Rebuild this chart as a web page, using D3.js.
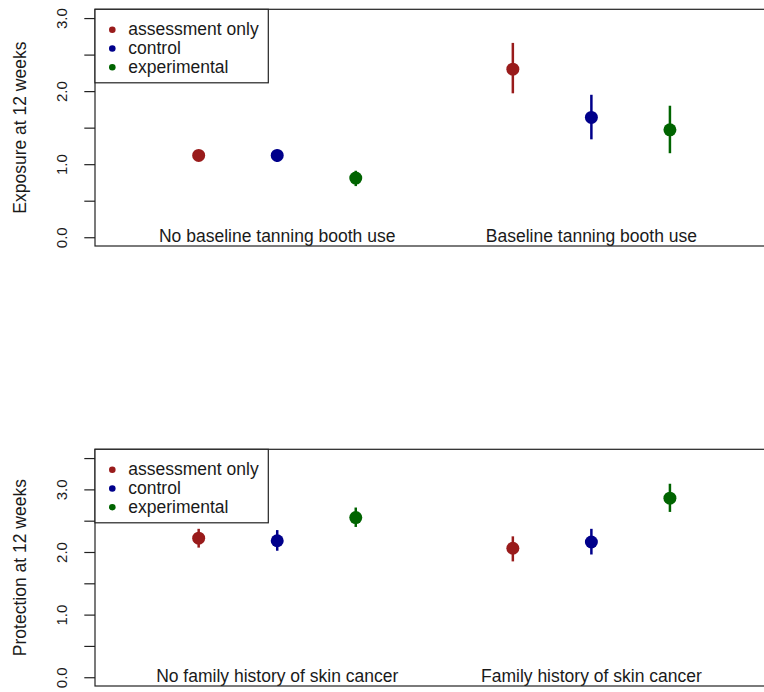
<!DOCTYPE html>
<html>
<head>
<meta charset="utf-8">
<script src="https://cdn.jsdelivr.net/npm/d3@7"></script>
<style>
  body { margin: 0; background: #fff; }
  text { font-family: "Liberation Sans", Arial, sans-serif; fill: #1a1a1a; }
</style>
</head>
<body>
<script>
// arms of the trial, in legend order
const arms = ['assessment only', 'control', 'experimental'];
const armColours = ['#991b1b', '#00008b', '#006400'];

// top panel: exposure
const exposureGroups = ['No baseline tanning booth use', 'Baseline tanning booth use'];
const exposureMean = [1.12, 1.12, 0.81, 2.30, 1.64, 1.47];
const exposureLow = [1.06, 1.03, 0.70, 1.97, 1.34, 1.15];
const exposureHigh = [1.18, 1.20, 0.91, 2.66, 1.95, 1.80];
const exposureTicks = [0, 0.5, 1, 1.5, 2, 2.5, 3];

// bottom panel: protection
const protectionGroups = ['No family history of skin cancer', 'Family history of skin cancer'];
const protectionMean = [2.22, 2.18, 2.55, 2.06, 2.16, 2.86];
const protectionLow = [2.07, 2.02, 2.40, 1.85, 1.96, 2.64];
const protectionHigh = [2.37, 2.35, 2.71, 2.25, 2.37, 3.09];
const protectionTicks = [0, 0.5, 1, 1.5, 2, 2.5, 3, 3.5];

const width = 764;
const height = 692;

const svg = d3.select('body').append('svg')
  .attr('width', width)
  .attr('height', height);

// x positions 1,2,3 and 5,6,7 on a 0..8 range (R pads by 4%)
const x = d3.scaleLinear().domain([-0.32, 8.32]).range([95, 773.6]);

function panel (opts) {
  const { top, bottom, ydomain, ticks, title, groups, mean, low, high } = opts;
  const y = d3.scaleLinear().domain(ydomain).range([bottom, top]);
  const g = svg.append('g');

  const rows = mean.map((m, i) => {
    const grp = Math.floor(i / arms.length);
    const arm = i % arms.length;
    return { pos: grp * 4 + arm + 1, arm, mean: m, low: low[i], high: high[i] };
  });

  // axis
  const axis = d3.axisLeft(y)
    .tickValues(ticks)
    .tickSizeInner(10.7)
    .tickSizeOuter(0)
    .tickFormat((d) => (d % 1 === 0 ? d3.format('.1f')(d) : ''));
  const ag = g.append('g')
    .attr('transform', `translate(${x.range()[0]},0)`)
    .call(axis);
  ag.select('.domain').remove();
  ag.selectAll('line').attr('stroke', '#222').attr('stroke-width', 1.2);
  ag.selectAll('text')
    .attr('x', null).attr('dy', null)
    .attr('transform', 'translate(-28,0) rotate(-90)')
    .attr('text-anchor', 'middle')
    .style('font-size', '15px')
    .style('font-family', '"Liberation Sans", Arial, sans-serif')
    .attr('fill', '#1a1a1a');

  // y title
  g.append('text')
    .attr('transform', `translate(26,${(top + bottom) / 2}) rotate(-90)`)
    .attr('text-anchor', 'middle')
    .style('font-size', '17.5px')
    .text(title);

  // error bars
  g.selectAll('line.err').data(rows).join('line')
    .attr('class', 'err')
    .attr('x1', (d) => x(d.pos)).attr('x2', (d) => x(d.pos))
    .attr('y1', (d) => y(d.low)).attr('y2', (d) => y(d.high))
    .attr('stroke', (d) => armColours[d.arm])
    .attr('stroke-width', 2.5);

  g.selectAll('circle.pt').data(rows).join('circle')
    .attr('class', 'pt')
    .attr('cx', (d) => x(d.pos)).attr('cy', (d) => y(d.mean))
    .attr('r', 6.5)
    .attr('fill', (d) => armColours[d.arm]);

  // group labels sit on y = 0
  g.selectAll('text.grp').data(groups).join('text')
    .attr('class', 'grp')
    .attr('x', (d, i) => x(i * 4 + 2))
    .attr('y', y(0) + 5)
    .attr('text-anchor', 'middle')
    .style('font-size', '17.5px')
    .text((d) => d);

  // frame
  g.append('rect')
    .attr('x', x.range()[0]).attr('y', top)
    .attr('width', x.range()[1] - x.range()[0])
    .attr('height', bottom - top)
    .attr('fill', 'none')
    .attr('stroke', '#222')
    .attr('stroke-width', 1.2);

  // legend
  const lg = g.append('g').attr('transform', `translate(${x.range()[0]},${top})`);
  lg.append('rect')
    .attr('width', 173.3).attr('height', 73.5)
    .attr('fill', '#fff')
    .attr('stroke', '#222')
    .attr('stroke-width', 1.2);
  const item = lg.selectAll('g.item').data(arms).join('g')
    .attr('class', 'item')
    .attr('transform', (d, i) => `translate(0,${20.5 + i * 18.7})`);
  item.append('circle')
    .attr('cx', 17.3).attr('cy', 0).attr('r', 3.3)
    .attr('fill', (d, i) => armColours[i]);
  item.append('text')
    .attr('x', 33.3).attr('y', 5.5)
    .style('font-size', '17.5px')
    .text((d) => d);
}

panel({
  top: 9.3, bottom: 246, ydomain: [-0.12, 3.12], ticks: exposureTicks,
  title: 'Exposure at 12 weeks', groups: exposureGroups,
  mean: exposureMean, low: exposureLow, high: exposureHigh
});

panel({
  top: 449.3, bottom: 686, ydomain: [-0.14, 3.64], ticks: protectionTicks,
  title: 'Protection at 12 weeks', groups: protectionGroups,
  mean: protectionMean, low: protectionLow, high: protectionHigh
});
</script>
</body>
</html>
